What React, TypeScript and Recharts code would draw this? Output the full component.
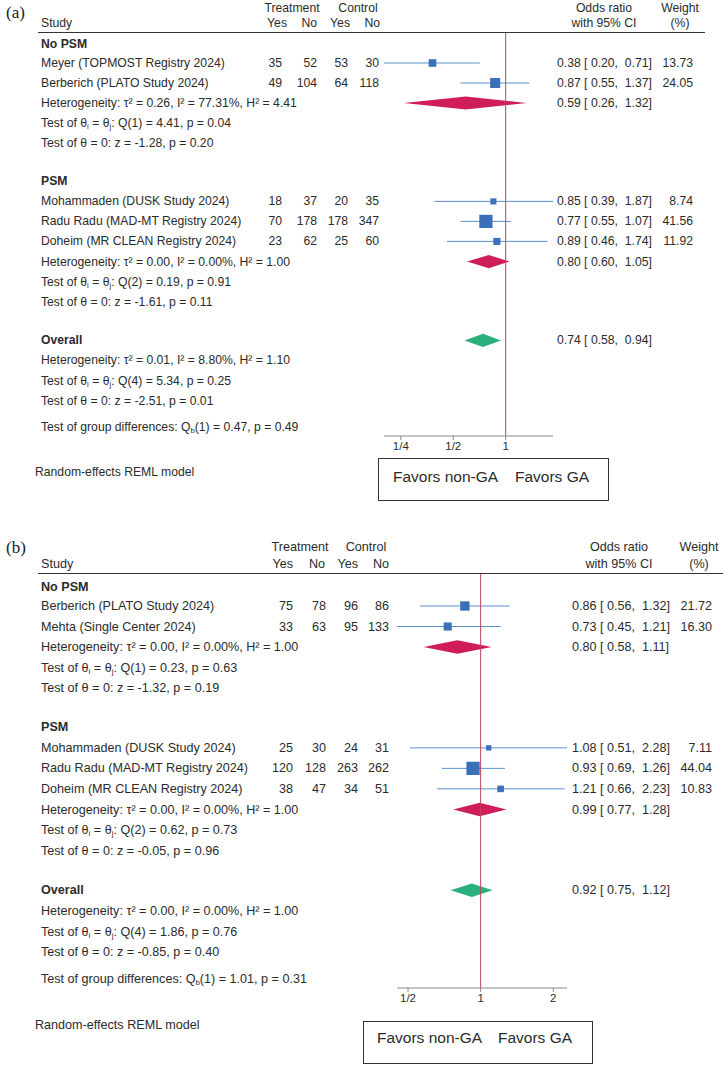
import React from "react";
import { ComposedChart, XAxis, YAxis, Line, Area, Scatter, ReferenceLine } from "recharts";

const SANS = "'Liberation Sans', Arial, Helvetica, sans-serif";
const SERIF = "'Liberation Serif', 'Times New Roman', serif";
const INK = "#2b2b2b";
const SQUARE_BLUE = "#3b6fba";
const CI_BLUE = "#5f8fcf";
const CRIMSON = "#cf1d5b";
const GREEN = "#2bb07d";
const NULL_RED = "#c4415b";
const AXIS_GREY = "#8a8a8a";

// ---- (a) ----
const studiesA = [
  "Meyer (TOPMOST Registry 2024)",
  "Berberich (PLATO Study 2024)",
  "Mohammaden (DUSK Study 2024)",
  "Radu Radu (MAD-MT Registry 2024)",
  "Doheim (MR CLEAN Registry 2024)",
];
const trtYesA = [35, 49, 18, 70, 23];
const trtNoA = [52, 104, 37, 178, 62];
const ctlYesA = [53, 64, 20, 178, 25];
const ctlNoA = [30, 118, 35, 347, 60];
const orA = [0.38, 0.87, 0.85, 0.77, 0.89];
const loA = [0.2, 0.55, 0.39, 0.55, 0.46];
const hiA = [0.71, 1.37, 1.87, 1.07, 1.74];
const weightA = [13.73, 24.05, 8.74, 41.56, 11.92];
// pooled: No PSM, PSM, Overall
const poolOrA = [0.59, 0.8, 0.74];
const poolLoA = [0.26, 0.6, 0.58];
const poolHiA = [1.32, 1.05, 0.94];
const tau2A = [0.26, 0.0, 0.01];
const i2A = [77.31, 0.0, 8.8];
const h2A = [4.41, 1.0, 1.1];
const qA = [4.41, 0.19, 5.34];
const qPA = [0.04, 0.91, 0.25];
const zA = [-1.28, -1.61, -2.51];
const zPA = [0.2, 0.11, 0.01];
const qbA = 0.47;
const qbPA = 0.49;
const ticksA = [0.25, 0.5, 1];
const tickLabelsA = ["1/4", "1/2", "1"];

// ---- (b) ----
const studiesB = [
  "Berberich (PLATO Study 2024)",
  "Mehta (Single Center 2024)",
  "Mohammaden (DUSK Study 2024)",
  "Radu Radu (MAD-MT Registry 2024)",
  "Doheim (MR CLEAN Registry 2024)",
];
const trtYesB = [75, 33, 25, 120, 38];
const trtNoB = [78, 63, 30, 128, 47];
const ctlYesB = [96, 95, 24, 263, 34];
const ctlNoB = [86, 133, 31, 262, 51];
const orB = [0.86, 0.73, 1.08, 0.93, 1.21];
const loB = [0.56, 0.45, 0.51, 0.69, 0.66];
const hiB = [1.32, 1.21, 2.28, 1.26, 2.23];
const weightB = [21.72, 16.3, 7.11, 44.04, 10.83];
const poolOrB = [0.8, 0.99, 0.92];
const poolLoB = [0.58, 0.77, 0.75];
const poolHiB = [1.11, 1.28, 1.12];
const tau2B = [0.0, 0.0, 0.0];
const i2B = [0.0, 0.0, 0.0];
const h2B = [1.0, 1.0, 1.0];
const qB = [0.23, 0.62, 1.86];
const qPB = [0.63, 0.73, 0.76];
const zB = [-1.32, -0.05, -0.85];
const zPB = [0.19, 0.96, 0.4];
const qbB = 1.01;
const qbPB = 0.31;
const ticksB = [0.5, 1, 2];
const tickLabelsB = ["1/2", "1", "2"];

const groupNames = ["No PSM", "PSM"];
const qDf = [1, 2, 4];

// row slots (in text lines) shared by both panels
const ROW_GROUP = [-0.95, 5.9];
const ROW_STUDY = [0, 1, 6.92, 7.92, 8.92];
const ROW_HET = [2, 9.93, 14.87];
const ROW_Q = [3, 10.93, 15.9];
const ROW_Z = [4, 11.95, 16.9];
const ROW_OVERALL = 13.87;
const ROW_QB = 18.2;
const DIAMOND_HALF = 0.33;

const f2 = (v: number) => v.toFixed(2);
const ciText = (o: number, l: number, h: number) => `${f2(o)} [ ${f2(l)},  ${f2(h)}]`;

type Panel = {
  tag: string;
  studies: string[];
  counts: number[][];
  or: number[];
  lo: number[];
  hi: number[];
  weight: number[];
  poolOr: number[];
  poolLo: number[];
  poolHi: number[];
  tau2: number[];
  i2: number[];
  h2: number[];
  q: number[];
  qP: number[];
  z: number[];
  zP: number[];
  qb: number;
  qbP: number;
  ticks: number[];
  tickLabels: string[];
  xDomain: [number, number];
  height: number;
  margin: { top: number; right: number; bottom: number; left: number };
  yDomain: [number, number];
  font: number;
  squareScale: number;
  colName: number;
  countRight: number[];
  headRight: number[];
  colCi: number;
  weightRight: number;
  treatX: number;
  ctrlX: number;
  orX: number;
  wtX: number;
  ruleRight: number;
  headY1: number;
  headY2: number;
  ruleY: number;
  tagY: number;
  noteY: number;
  box: [number, number, number, number];
  boxText: [number, number, number];
};

const panelA: Panel = {
  tag: "(a)",
  studies: studiesA,
  counts: [trtYesA, trtNoA, ctlYesA, ctlNoA],
  or: orA,
  lo: loA,
  hi: hiA,
  weight: weightA,
  poolOr: poolOrA,
  poolLo: poolLoA,
  poolHi: poolHiA,
  tau2: tau2A,
  i2: i2A,
  h2: h2A,
  q: qA,
  qP: qPA,
  z: zA,
  zP: zPA,
  qb: qbA,
  qbP: qbPA,
  ticks: ticksA,
  tickLabels: tickLabelsA,
  xDomain: [0.2, 1.87],
  height: 525,
  margin: { top: 32, right: 173, bottom: 59, left: 384 },
  yDomain: [-1.55, 18.65],
  font: 12.2,
  squareScale: 2.05,
  colName: 41,
  countRight: [282, 317, 348, 379],
  headRight: [287, 317, 350, 380],
  colCi: 557,
  weightRight: 693,
  treatX: 292,
  ctrlX: 358,
  orX: 604,
  wtX: 680,
  ruleRight: 705,
  headY1: 7.5,
  headY2: 23,
  ruleY: 32.5,
  tagY: 12,
  noteY: 472,
  box: [378, 458, 608, 500],
  boxText: [393, 515, 476],
};

const panelB: Panel = {
  tag: "(b)",
  studies: studiesB,
  counts: [trtYesB, trtNoB, ctlYesB, ctlNoB],
  or: orB,
  lo: loB,
  hi: hiB,
  weight: weightB,
  poolOr: poolOrB,
  poolLo: poolLoB,
  poolHi: poolHiB,
  tau2: tau2B,
  i2: i2B,
  h2: h2B,
  q: qB,
  qP: qPB,
  z: zB,
  zP: zPB,
  qb: qbB,
  qbP: qbPB,
  ticks: ticksB,
  tickLabels: tickLabelsB,
  xDomain: [0.45, 2.28],
  height: 540,
  margin: { top: 48, right: 159, bottom: 47, left: 397 },
  yDomain: [-1.61, 18.634],
  font: 12.6,
  squareScale: 2.0,
  colName: 41,
  countRight: [293, 326, 358, 389],
  headRight: [293, 325, 358, 389],
  colCi: 572,
  weightRight: 712,
  treatX: 300,
  ctrlX: 366,
  orX: 619,
  wtX: 699,
  ruleRight: 723,
  headY1: 22,
  headY2: 39,
  ruleY: 48.5,
  tagY: 22,
  noteY: 500,
  box: [363, 496, 592, 538],
  boxText: [377, 498, 512],
};

function buildTextRows() {
  const rows: any[] = [];
  groupNames.forEach((g, gi) => rows.push({ x: 1, y: ROW_GROUP[gi], kind: "head", label: g }));
  ROW_STUDY.forEach((r, i) => rows.push({ x: 1, y: r, kind: "study", i }));
  [0, 1, 2].forEach((k) => {
    rows.push({ x: 1, y: ROW_HET[k], kind: "het", k });
    rows.push({ x: 1, y: ROW_Q[k], kind: "q", k });
    rows.push({ x: 1, y: ROW_Z[k], kind: "z", k });
  });
  rows.push({ x: 1, y: ROW_OVERALL, kind: "head", label: "Overall", k: 2 });
  rows.push({ x: 1, y: ROW_QB, kind: "qb" });
  return rows;
}

function RowText({ cy, payload, p }: any) {
  const fs = p.font;
  const sf = fs * 0.62;
  const base = { fontFamily: SANS, fontSize: fs, fill: INK, dominantBaseline: "central" as const, style: { whiteSpace: "pre" as const } };
  const ci = (k: number) => (
    <text {...base} x={p.colCi} y={cy}>
      {ciText(p.poolOr[k], p.poolLo[k], p.poolHi[k])}
    </text>
  );
  const d = payload;
  if (d.kind === "head") {
    return (
      <g>
        <text {...base} x={p.colName} y={cy} fontWeight="bold">
          {d.label}
        </text>
        {d.label === "Overall" ? ci(2) : null}
      </g>
    );
  }
  if (d.kind === "study") {
    const i = d.i;
    return (
      <g>
        <text {...base} x={p.colName} y={cy}>
          {p.studies[i]}
        </text>
        {p.counts.map((col: number[], c: number) => (
          <text key={c} {...base} x={p.countRight[c]} y={cy} textAnchor="end">
            {String(col[i])}
          </text>
        ))}
        <text {...base} x={p.colCi} y={cy}>
          {ciText(p.or[i], p.lo[i], p.hi[i])}
        </text>
        <text {...base} x={p.weightRight} y={cy} textAnchor="end">
          {f2(p.weight[i])}
        </text>
      </g>
    );
  }
  if (d.kind === "het") {
    const k = d.k;
    return (
      <g>
        <text {...base} x={p.colName} y={cy}>
          {`Heterogeneity: τ² = ${f2(p.tau2[k])}, I² = ${f2(p.i2[k])}%, H² = ${f2(p.h2[k])}`}
        </text>
        {k < 2 ? ci(k) : null}
      </g>
    );
  }
  if (d.kind === "q") {
    const k = d.k;
    return (
      <text {...base} x={p.colName} y={cy}>
        {"Test of θ"}
        <tspan fontSize={sf} dy={3}>i</tspan>
        <tspan dy={-3}>{" = θ"}</tspan>
        <tspan fontSize={sf} dy={3}>j</tspan>
        <tspan dy={-3}>{`: Q(${qDf[k]}) = ${f2(p.q[k])}, p = ${f2(p.qP[k])}`}</tspan>
      </text>
    );
  }
  if (d.kind === "z") {
    const k = d.k;
    return (
      <text {...base} x={p.colName} y={cy}>
        {`Test of θ = 0: z = ${f2(p.z[k])}, p = ${f2(p.zP[k])}`}
      </text>
    );
  }
  return (
    <text {...base} x={p.colName} y={cy}>
      {"Test of group differences: Q"}
      <tspan fontSize={sf} dy={3}>b</tspan>
      <tspan dy={-3}>{`(1) = ${f2(p.qb)}, p = ${f2(p.qbP)}`}</tspan>
    </text>
  );
}

function Frame({ p }: { p: Panel }) {
  const t = { fontFamily: SANS, fontSize: p.font, fill: INK, dominantBaseline: "central" as const };
  const heads = ["Yes", "No", "Yes", "No"];
  const [bx0, by0, bx1, by1] = p.box;
  return (
    <svg width={726} height={p.height} style={{ position: "absolute", left: 0, top: 0, pointerEvents: "none" }}>
      <text x={6} y={p.tagY} fontFamily={SERIF} fontSize={17} fill="#222" dominantBaseline="central">
        {p.tag}
      </text>
      <text {...t} x={p.treatX} y={p.headY1} textAnchor="middle">Treatment</text>
      <text {...t} x={p.ctrlX} y={p.headY1} textAnchor="middle">Control</text>
      <text {...t} x={p.orX} y={p.headY1} textAnchor="middle">Odds ratio</text>
      <text {...t} x={p.wtX} y={p.headY1} textAnchor="middle">Weight</text>
      <text {...t} x={p.colName} y={p.headY2}>Study</text>
      {heads.map((h, c) => (
        <text key={c} {...t} x={p.headRight[c]} y={p.headY2} textAnchor="end">
          {h}
        </text>
      ))}
      <text {...t} x={p.orX} y={p.headY2} textAnchor="middle">with 95% CI</text>
      <text {...t} x={p.wtX} y={p.headY2} textAnchor="middle">(%)</text>
      <line x1={38} x2={p.ruleRight} y1={p.ruleY} y2={p.ruleY} stroke="#333" strokeWidth={1} />
      <text {...t} x={35} y={p.noteY}>Random-effects REML model</text>
      <rect x={bx0 + 0.5} y={by0 + 0.5} width={bx1 - bx0} height={by1 - by0} fill="none" stroke="#333" strokeWidth={1} />
      <text fontFamily={SANS} fontSize={15.5} fill={INK} dominantBaseline="central" x={p.boxText[0]} y={p.boxText[2]}>
        Favors non-GA
      </text>
      <text fontFamily={SANS} fontSize={15.5} fill={INK} dominantBaseline="central" x={p.boxText[1]} y={p.boxText[2]}>
        Favors GA
      </text>
    </svg>
  );
}

function ForestPanel({ p }: { p: Panel }) {
  const squares = p.or.map((o, i) => ({ x: o, y: ROW_STUDY[i], w: p.weight[i] }));
  const poolRows = [ROW_HET[0], ROW_HET[1], ROW_OVERALL];
  const poolColors = [CRIMSON, CRIMSON, GREEN];
  const textRows = buildTextRows();
  return (
    <div style={{ position: "relative", width: 726, height: p.height }}>
      <ComposedChart width={726} height={p.height} margin={p.margin}>
        <XAxis
          type="number"
          dataKey="x"
          scale="log"
          domain={p.xDomain}
          ticks={p.ticks}
          tickFormatter={(v: number) => p.tickLabels[p.ticks.indexOf(v)] ?? ""}
          stroke={AXIS_GREY}
          tickSize={4}
          height={30}
          tick={{ fontSize: 11.5, fill: INK, fontFamily: SANS }}
          interval={0}
        />
        <YAxis type="number" dataKey="y" domain={p.yDomain} reversed hide />
        {p.lo.map((l, i) => (
          <Line
            key={`ci${i}`}
            data={[
              { x: l, y: ROW_STUDY[i] },
              { x: p.hi[i], y: ROW_STUDY[i] },
            ]}
            dataKey="y"
            stroke={CI_BLUE}
            strokeWidth={1}
            dot={false}
            activeDot={false}
            isAnimationActive={false}
          />
        ))}
        <Scatter
          data={squares}
          isAnimationActive={false}
          shape={(s: any) => {
            const side = p.squareScale * Math.sqrt(s.payload.w);
            return <rect x={s.cx - side / 2} y={s.cy - side / 2} width={side} height={side} fill={SQUARE_BLUE} />;
          }}
        />
        {p.poolOr.map((o, k) => (
          <Area
            key={`pool${k}`}
            data={[
              { x: p.poolLo[k], band: [poolRows[k], poolRows[k]] },
              { x: o, band: [poolRows[k] - DIAMOND_HALF, poolRows[k] + DIAMOND_HALF] },
              { x: p.poolHi[k], band: [poolRows[k], poolRows[k]] },
            ]}
            dataKey="band"
            type="linear"
            fill={poolColors[k]}
            fillOpacity={1}
            stroke="none"
            dot={false}
            activeDot={false}
            isAnimationActive={false}
          />
        ))}
        <ReferenceLine x={1} stroke={NULL_RED} strokeWidth={1} />
        <Scatter data={textRows} isAnimationActive={false} shape={(s: any) => <RowText {...s} p={p} />} />
      </ComposedChart>
      <Frame p={p} />
    </div>
  );
}

export default function App() {
  return (
    <div style={{ position: "absolute", left: 0, top: 0, width: 726, height: 1065, background: "#fff" }}>
      <ForestPanel p={panelA} />
      <ForestPanel p={panelB} />
    </div>
  );
}
